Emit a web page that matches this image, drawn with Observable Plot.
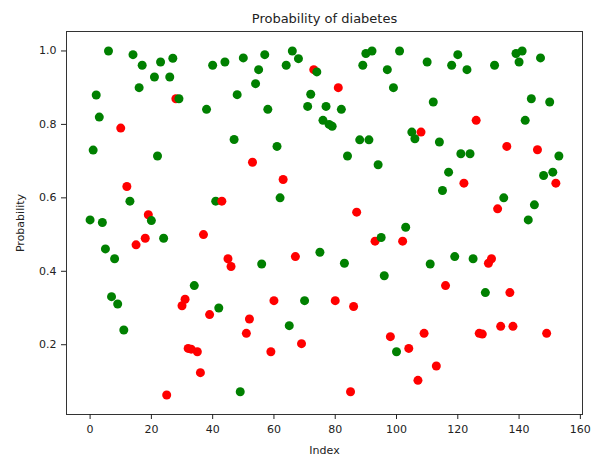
<!DOCTYPE html>
<html>
<head>
<meta charset="utf-8">
<script src="https://cdn.jsdelivr.net/npm/d3@7"></script>
<script src="https://cdn.jsdelivr.net/npm/@observablehq/plot@0.6"></script>
<style>
  html, body { margin: 0; padding: 0; background: #fff; }
</style>
</head>
<body>
<div id="chart"></div>
<script>
const title = "Probability of diabetes";
const xLabel = "Index";
const yLabel = "Probability";
const xTicks = [0, 20, 40, 60, 80, 100, 120, 140, 160];
const yTicks = [0.2, 0.4, 0.6, 0.8, 1.0];

const probability = [
  0.54, 0.73, 0.88, 0.82, 0.533, 0.461, 1.00, 0.331, 0.434, 0.311,
  0.79, 0.24, 0.631, 0.591, 0.99, 0.472, 0.90, 0.961, 0.49, 0.554,
  0.538, 0.929, 0.714, 0.97, 0.49, 0.063, 0.929, 0.98, 0.87, 0.87,
  0.306, 0.324, 0.19, 0.188, 0.361, 0.181, 0.124, 0.50, 0.841, 0.282,
  0.961, 0.591, 0.30, 0.591, 0.97, 0.434, 0.413, 0.759, 0.881, 0.072,
  0.981, 0.231, 0.27, 0.697, 0.911, 0.949, 0.42, 0.99, 0.841, 0.181,
  0.32, 0.74, 0.60, 0.65, 0.961, 0.252, 1.00, 0.44, 0.979, 0.203,
  0.32, 0.849, 0.882, 0.949, 0.943, 0.452, 0.811, 0.849, 0.80, 0.795,
  0.32, 0.90, 0.841, 0.422, 0.714, 0.072, 0.304, 0.561, 0.758, 0.961,
  0.993, 0.758, 1.00, 0.482, 0.69, 0.492, 0.388, 0.949, 0.222, 0.90,
  0.181, 1.00, 0.482, 0.52, 0.19, 0.779, 0.761, 0.103, 0.779, 0.231,
  0.97, 0.42, 0.861, 0.142, 0.752, 0.62, 0.361, 0.67, 0.961, 0.44,
  0.99, 0.72, 0.64, 0.949, 0.72, 0.434, 0.811, 0.231, 0.229, 0.342,
  0.422, 0.434, 0.961, 0.57, 0.25, 0.60, 0.74, 0.342, 0.25, 0.993,
  0.97, 1.00, 0.811, 0.54, 0.87, 0.581, 0.731, 0.981, 0.661, 0.231,
  0.861, 0.67, 0.64, 0.714
];

// G = green, R = red
const colorCode = [
  "G","G","G","G","G","G","G","G","G","G",
  "R","G","R","G","G","R","G","G","R","R",
  "G","G","G","G","G","R","G","G","R","G",
  "R","R","R","R","G","R","R","R","G","R",
  "G","G","G","R","G","R","R","G","G","G",
  "G","R","R","R","G","G","G","G","G","R",
  "R","G","G","R","G","G","G","R","G","R",
  "G","G","G","R","G","G","G","G","G","G",
  "R","R","G","G","G","R","R","R","G","G",
  "G","G","G","R","G","G","G","G","R","G",
  "G","G","R","G","R","G","G","R","R","R",
  "G","G","G","R","G","G","R","G","G","G",
  "G","G","R","G","G","G","R","R","R","G",
  "R","R","G","R","R","G","R","R","R","G",
  "G","G","G","G","G","G","R","G","G","R",
  "G","G","R","G"
];

const colorMap = { G: "#008000", R: "#ff0000" };

const data = probability.map((p, i) => ({ index: i, p, c: colorMap[colorCode[i]] }));

const font = "'DejaVu Sans', sans-serif";

const chart = Plot.plot({
  width: 592,
  height: 459,
  marginLeft: 66,
  marginRight: 10,
  marginTop: 31,
  marginBottom: 45,
  style: { fontFamily: font, fontSize: "11px", color: "#222", background: "#fff" },
  x: { domain: [-7.7, 160.7] },
  y: { domain: [0.01, 1.053] },
  marks: [
    Plot.dot(data, { x: "index", y: "p", r: 4.5, fill: "c", stroke: "none" }),
    Plot.frame({ stroke: "#333", strokeWidth: 1 }),
    Plot.axisX({ ticks: xTicks, tickSize: 5, tickPadding: 6, label: xLabel, labelAnchor: "center", labelArrow: "none", labelOffset: 39, fontSize: 11 }),
    Plot.axisY({ ticks: yTicks, tickSize: 5, tickPadding: 5, tickFormat: d3.format(".1f"), label: yLabel, labelAnchor: "center", labelArrow: "none", labelOffset: 50, fontSize: 11 }),
    Plot.text([title], { frameAnchor: "top", dy: -18, fontSize: 13, fill: "#222", text: d => d })
  ]
});

document.getElementById("chart").appendChild(chart);
</script>
</body>
</html>
